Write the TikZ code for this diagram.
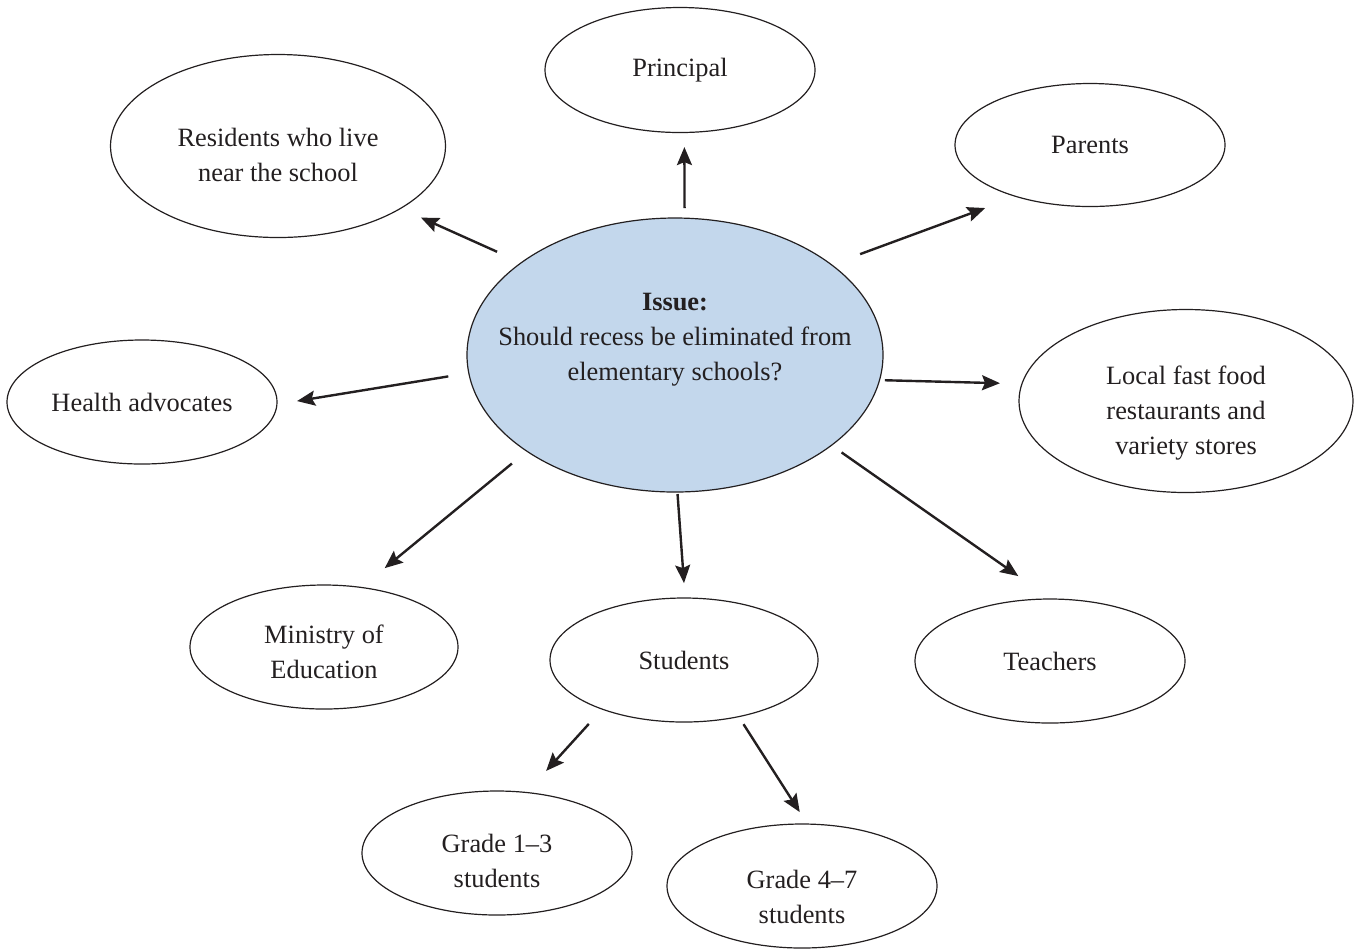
\documentclass[tikz,border=0pt]{standalone}
\usepackage{fontspec}
\setmainfont{Liberation Serif}
\usetikzlibrary{shapes.geometric, arrows.meta}
\definecolor{issueblue}{RGB}{195,215,236}
\definecolor{ink}{RGB}{35,31,32}
\def\Issue{\textbf{Issue:}\\Should recess be eliminated from\\elementary schools?}
\def\Residents{Residents who live\\near the school}
\def\Fastfood{Local fast food\\restaurants and\\variety stores}
\def\Ministry{Ministry of\\Education}
\def\Younger{Grade 1--3\\students}
\def\Older{Grade 4--7\\students}

\begin{document}
\begin{tikzpicture}[x=0.5pt, y=-0.5pt,
    txt/.style={align=center, text=ink, font=\fontsize{13.2}{17.5}\selectfont},
    group/.style={txt, ellipse, draw=ink, line width=0.6pt, inner sep=0pt, outer sep=0pt,
        minimum width=135pt, minimum height=62pt},
    wide/.style={group, minimum width=167.5pt, minimum height=91.5pt},
    link/.style={draw=ink, line width=1.2pt, -{Stealth[length=9pt, width=7.5pt, inset=1.5pt]}}]
\useasboundingbox (0,0) rectangle (1359,950);

\node[group, fill=issueblue, minimum width=208pt, minimum height=137pt] (issue) at (675,355) {};
\node[txt] (issuetext) at (675,340) {\Issue};

\node[group, minimum height=62.5pt] (principal) at (680,70) {Principal};
\node[wide] (residents) at (278,146) {};
\node[txt] (residentstext) at (278,155) {\Residents};
\node[group, minimum height=61.5pt] (parents) at (1090,145) {Parents};
\node[group] (health) at (142,402) {Health advocates};
\node[wide, minimum width=167pt] (local) at (1186,401) {};
\node[txt] (localtext) at (1186,413) {\Fastfood};
\node[group, minimum width=134pt] (ministry) at (324,647) {};
\node[txt] (ministrytext) at (324,652) {\Ministry};
\node[group, minimum width=134pt] (students) at (684,660) {Students};
\node[group] (teachers) at (1050,661) {Teachers};
\node[group] (grade13) at (497,853) {};
\node[txt] (grade13text) at (497,861) {\Younger};
\node[group] (grade47) at (802,886) {};
\node[txt] (grade47text) at (802,897) {\Older};

% stakeholders
\draw[link, shorten <=5pt, shorten >=7.3pt] (issue.86) -- (principal.274);
\draw[link, shorten <=13.3pt, shorten >=11.2pt] (issue.149) -- (residents.333);
\draw[link, shorten <=15.3pt, shorten >=16.6pt] (issue.30) -- (parents.215);
\draw[link, shorten <=10.4pt, shorten >=10.2pt] (issue.185) -- (health.359);
\draw[link, shorten <=2.7pt, shorten >=11pt] (issue.353) -- (local.174);
\draw[link, shorten <=9.7pt, shorten >=15.2pt] (issue.213) -- (ministry.58);
\draw[link, shorten <=1pt, shorten >=7.5pt] (issue.271) -- (students.89);
\draw[link, shorten <=6.2pt, shorten >=20pt] (issue.330) -- (teachers.89);
\draw[link, shorten <=10pt, shorten >=14.6pt] (students.211) -- (grade13.64);
\draw[link, shorten <=4.5pt, shorten >=7.1pt] (students.314) -- (grade47.85);
\end{tikzpicture}
\end{document}
